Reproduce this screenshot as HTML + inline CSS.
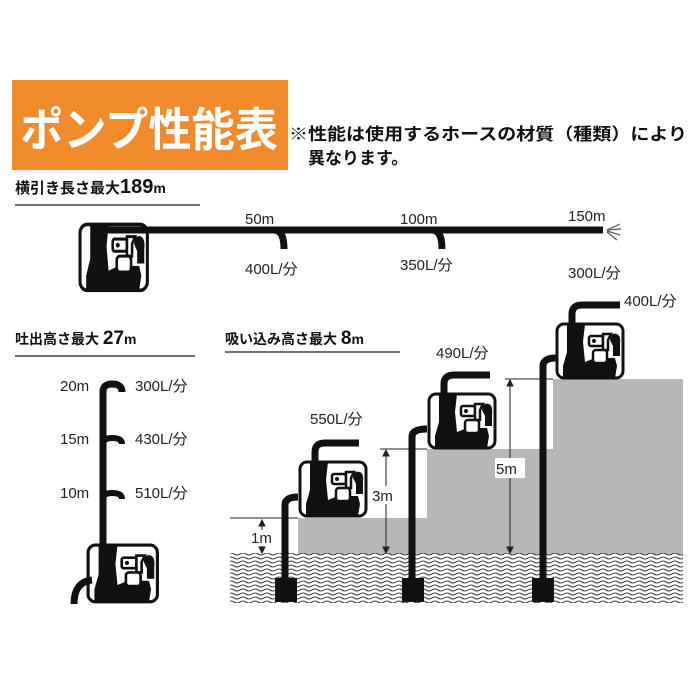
<!DOCTYPE html>
<html><head><meta charset="utf-8"><style>
html,body{margin:0;padding:0;background:#fff;}
svg{display:block;}
text{font-family:"Liberation Sans","Noto Sans CJK JP",sans-serif;}
</style></head><body>
<svg width="700" height="700" viewBox="0 0 700 700" xmlns="http://www.w3.org/2000/svg">
<defs>
<g id="pump">
  <rect x="2" y="2" width="66" height="54" rx="7" fill="#fff" stroke="#111" stroke-width="3"/>
  <path d="M12 2 L30 2 L28 20 L30 40 L34 56 L8 56 L8 44 L12 30 Z" fill="#111"/>
  <path d="M30 40 L40 36 L60 36 L62 44 L60 56 L30 56 Z" fill="#111"/>
  <rect x="34" y="14" width="14" height="10" rx="2" fill="#fff" stroke="#111" stroke-width="2.5"/>
  <circle cx="39" cy="19" r="2" fill="#111"/>
  <path d="M48 12 L56 12 L53 18 L53 28 L48 28 Z" fill="#fff" stroke="#111" stroke-width="2.5"/>
  <path d="M55 18 Q56 10 62 12 Q66 14 65 22 L65 34 L58 34 L58 24 Z" fill="#111"/>
  <rect x="38" y="28" width="14" height="13" rx="3" fill="#fff" stroke="#111" stroke-width="2.5"/>
</g>
<pattern id="wave" width="12" height="4" patternUnits="userSpaceOnUse">
  <path d="M0 2 Q3 0 6 2 T12 2" fill="none" stroke="#444" stroke-width="1.1"/>
</pattern>
</defs>

<!-- header -->
<rect x="12" y="80" width="276" height="90" fill="#f08a2a"/>
<text x="20" y="146" font-size="46" font-weight="bold" fill="#fff" textLength="258" lengthAdjust="spacingAndGlyphs">ポンプ性能表</text>
<text x="289" y="140" font-size="17" font-weight="bold" fill="#111" textLength="398" lengthAdjust="spacingAndGlyphs">※性能は使用するホースの材質（種類）により</text>
<text x="308" y="164" font-size="17" font-weight="bold" fill="#111">異なります。</text>

<!-- horizontal section -->
<text x="15" y="193" font-size="15" font-weight="bold" fill="#111">横引き長さ最大<tspan font-size="20">189</tspan><tspan font-size="14">m</tspan></text>
<line x1="15" y1="205" x2="200" y2="205" stroke="#444" stroke-width="1.5"/>
<g transform="translate(78,222) scale(1.02,1.22)"><use href="#pump"/></g>
<path d="M95 230 L603 230" stroke="#111" stroke-width="7"/>
<path d="M274 230 Q284 230 284 249" fill="none" stroke="#111" stroke-width="7"/>
<path d="M432 230 Q442 230 442 249" fill="none" stroke="#111" stroke-width="7"/>
<g stroke="#555" stroke-width="1.2"><line x1="607" y1="230" x2="620" y2="224"/><line x1="607" y1="230" x2="621" y2="229"/><line x1="607" y1="231" x2="620" y2="235"/><line x1="607" y1="232" x2="617" y2="240"/></g>
<g font-size="15" fill="#222">
<text x="245" y="224">50m</text><text x="245" y="274">400L/分</text>
<text x="400" y="224">100m</text><text x="400" y="270">350L/分</text>
<text x="568" y="221">150m</text><text x="568" y="278">300L/分</text>
</g>

<!-- vertical section -->
<text x="15" y="344" font-size="14" font-weight="bold" fill="#111">吐出高さ最大 <tspan font-size="19">27</tspan><tspan font-size="14">m</tspan></text>
<line x1="15" y1="356" x2="195" y2="356" stroke="#444" stroke-width="1.5"/>
<path d="M103 560 L103 392 Q103 384 112 384 Q122 384 122 392" fill="none" stroke="#111" stroke-width="7"/>
<path d="M103 444 Q103 438 112 438 Q122 438 122 444" fill="none" stroke="#111" stroke-width="6"/>
<path d="M103 499 Q103 493 112 493 Q122 493 122 499" fill="none" stroke="#111" stroke-width="6"/>
<g transform="translate(86,543) scale(1.05,1.05)"><use href="#pump"/></g>
<path d="M74 604 Q74 582 92 580" fill="none" stroke="#111" stroke-width="7"/>
<g font-size="15" fill="#222">
<text x="60" y="391">20m</text><text x="135" y="391">300L/分</text>
<text x="60" y="444">15m</text><text x="135" y="444">430L/分</text>
<text x="60" y="498">10m</text><text x="135" y="498">510L/分</text>
</g>

<!-- suction section -->
<text x="225" y="344" font-size="14" font-weight="bold" fill="#111">吸い込み高さ最大 <tspan font-size="19">8</tspan><tspan font-size="14">m</tspan></text>
<line x1="225" y1="352" x2="400" y2="352" stroke="#444" stroke-width="1.5"/>
<rect x="298" y="518" width="385" height="36" fill="#b7b7b7"/>
<rect x="427" y="449" width="256" height="70" fill="#b7b7b7"/>
<rect x="553" y="379" width="130" height="71" fill="#b7b7b7"/>
<rect x="230" y="553" width="453" height="50" fill="url(#wave)"/>
<line x1="230" y1="518" x2="298" y2="518" stroke="#222" stroke-width="1"/>
<line x1="380" y1="449" x2="427" y2="449" stroke="#222" stroke-width="1"/>
<line x1="505" y1="379" x2="553" y2="379" stroke="#222" stroke-width="1"/>
<g stroke="#222" stroke-width="1" fill="#222">
<line x1="262" y1="522" x2="262" y2="551"/><path d="M259 526 L262 520 L265 526Z"/><path d="M259 547 L262 553 L265 547Z"/>
<line x1="386" y1="452" x2="386" y2="551"/><path d="M383 456 L386 450 L389 456Z"/><path d="M383 547 L386 553 L389 547Z"/>
<line x1="510" y1="382" x2="510" y2="551"/><path d="M507 386 L510 380 L513 386Z"/><path d="M507 547 L510 553 L513 547Z"/>
</g>
<rect x="250" y="530" width="24" height="16" fill="#fff"/>
<rect x="370" y="486" width="30" height="18" fill="#fff"/>
<rect x="495" y="458" width="30" height="20" fill="#fff"/>
<g font-size="15" fill="#222">
<text x="251" y="543">1m</text><text x="372" y="501">3m</text><text x="496" y="474">5m</text>
<text x="310" y="424">550L/分</text><text x="436" y="358">490L/分</text><text x="624" y="306">400L/分</text>
</g>
<!-- pumps -->
<g transform="translate(298,460)"><use href="#pump"/></g>
<path d="M285 578 L285 505 Q285 497 298 497" fill="none" stroke="#111" stroke-width="7"/>
<rect x="275" y="578" width="22" height="24" fill="#111"/>
<path d="M315 475 L315 452 Q315 443 325 443 L359 443" fill="none" stroke="#111" stroke-width="7"/>

<g transform="translate(427,392)"><use href="#pump"/></g>
<path d="M412 578 L412 437 Q412 429 427 429" fill="none" stroke="#111" stroke-width="7"/>
<rect x="402" y="578" width="22" height="24" fill="#111"/>
<path d="M444 410 L444 384 Q444 375 454 375 L490 375" fill="none" stroke="#111" stroke-width="7"/>

<g transform="translate(555,322)"><use href="#pump"/></g>
<path d="M543 578 L543 366 Q543 358 556 358" fill="none" stroke="#111" stroke-width="7"/>
<rect x="532" y="578" width="22" height="24" fill="#111"/>
<path d="M572 340 L572 314 Q572 305 582 305 L620 305" fill="none" stroke="#111" stroke-width="7"/>
</svg>
</body></html>
